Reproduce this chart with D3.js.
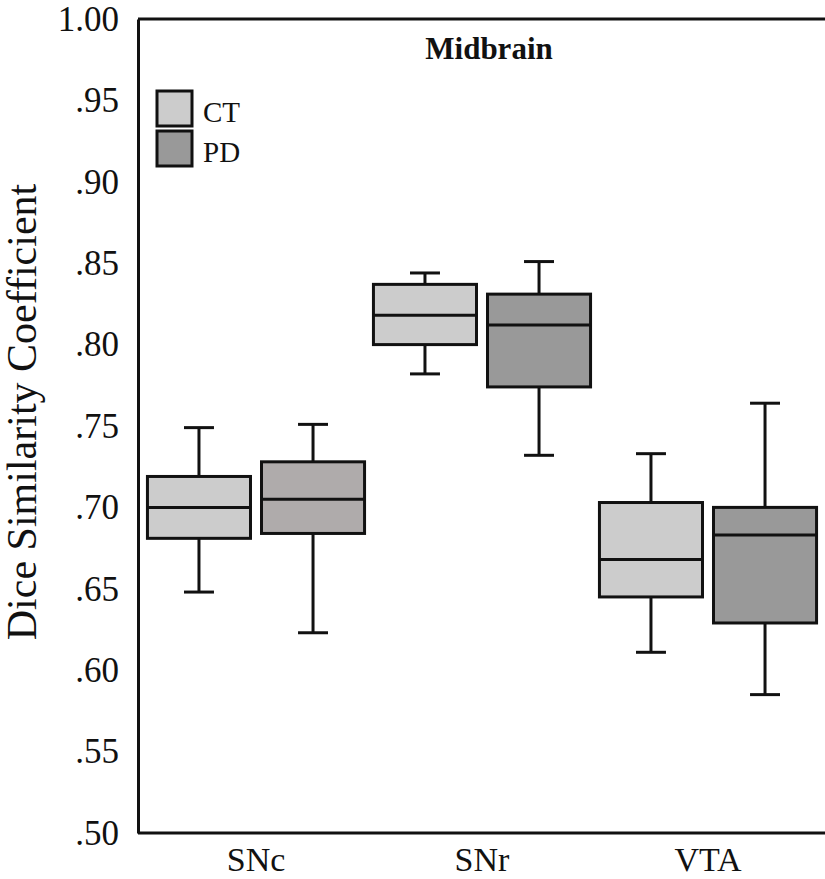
<!DOCTYPE html>
<html>
<head>
<meta charset="utf-8">
<script src="https://cdn.jsdelivr.net/npm/d3@7"></script>
<style>
  body{margin:0;background:#fff;}
  svg{display:block;font-family:"Liberation Serif","Times New Roman",serif;}
</style>
</head>
<body>
<svg id="chart" width="825" height="879"></svg>
<script>
// data
const regions=["SNc","SNr","VTA"];
const groups=["CT","PD"];
// per region: [lower whisker, Q1, median, Q3, upper whisker]
const ctStats=[[0.648,0.681,0.700,0.719,0.749],[0.782,0.800,0.818,0.837,0.844],[0.611,0.645,0.668,0.703,0.733]];
const pdStats=[[0.623,0.684,0.705,0.728,0.751],[0.732,0.774,0.812,0.831,0.851],[0.585,0.629,0.683,0.700,0.764]];
const yTicks=[0.50,0.55,0.60,0.65,0.70,0.75,0.80,0.85,0.90,0.95,1.00];
const title="Midbrain";
const yLabel="Dice Similarity Coefficient";

const fills={CT:"#cccccc",PD:"#999999"};
const boxFill=(r,g)=> (r=="SNc" && g=="PD") ? "#afabab" : fills[g];

const rows=regions.flatMap((r,i)=>[
  {region:r,group:"CT",s:ctStats[i]},
  {region:r,group:"PD",s:pdStats[i]}
]);

const svg=d3.select("#chart");
const plotL=138, plotR=825, plotT=19, plotB=833;

const y=d3.scaleLinear().domain([0.5,1]).range([plotB,plotT]);
const x=d3.scaleBand().domain(regions).range([143,821]);
const xs=d3.scaleBand().domain(groups).range([0,x.bandwidth()]).paddingInner(0.0965).paddingOuter(0.039);

// frame lines top / bottom
svg.append("line").attr("x1",plotL).attr("x2",plotR).attr("y1",y(1)).attr("y2",y(1)).attr("stroke","#111").attr("stroke-width",3);
svg.append("line").attr("x1",plotL).attr("x2",plotR).attr("y1",y(0.5)).attr("y2",y(0.5)).attr("stroke","#111").attr("stroke-width",3);

const yAxis=svg.append("g").attr("transform","translate("+plotL+",0)")
  .call(d3.axisLeft(y).tickValues(yTicks).tickSize(0).tickSizeOuter(0).tickPadding(19)
    .tickFormat(d=>d3.format(".2f")(d).replace(/^0/,"")));
yAxis.select(".domain").attr("stroke","#111").attr("stroke-width",3);
yAxis.selectAll("text").attr("font-family","Liberation Serif").attr("font-size",35).attr("fill","#111");

const xAxis=svg.append("g").attr("transform","translate(0,"+plotB+")")
  .call(d3.axisBottom(x).tickSize(0).tickPadding(14));
xAxis.select(".domain").remove();
xAxis.selectAll("text").attr("font-family","Liberation Serif").attr("font-size",34).attr("fill","#111");

// boxes
const capW=30;
const box=svg.append("g").selectAll("g").data(rows).join("g")
  .attr("transform",d=>"translate("+(x(d.region)+xs(d.group))+",0)");
const bw=xs.bandwidth();

box.append("line").attr("x1",bw/2).attr("x2",bw/2).attr("y1",d=>y(d.s[0])).attr("y2",d=>y(d.s[1])).attr("stroke","#111").attr("stroke-width",3);
box.append("line").attr("x1",bw/2).attr("x2",bw/2).attr("y1",d=>y(d.s[3])).attr("y2",d=>y(d.s[4])).attr("stroke","#111").attr("stroke-width",3);
box.append("line").attr("x1",bw/2-capW/2).attr("x2",bw/2+capW/2).attr("y1",d=>y(d.s[0])).attr("y2",d=>y(d.s[0])).attr("stroke","#111").attr("stroke-width",3);
box.append("line").attr("x1",bw/2-capW/2).attr("x2",bw/2+capW/2).attr("y1",d=>y(d.s[4])).attr("y2",d=>y(d.s[4])).attr("stroke","#111").attr("stroke-width",3);
box.append("rect").attr("x",0).attr("width",bw).attr("y",d=>y(d.s[3])).attr("height",d=>y(d.s[1])-y(d.s[3]))
  .attr("fill",d=>boxFill(d.region,d.group)).attr("stroke","#111").attr("stroke-width",3);
box.append("line").attr("x1",0).attr("x2",bw).attr("y1",d=>y(d.s[2])).attr("y2",d=>y(d.s[2])).attr("stroke","#111").attr("stroke-width",3);

// title
svg.append("text").attr("x",489).attr("y",59).attr("text-anchor","middle").attr("font-weight","bold").attr("font-size",31).attr("fill","#111").text(title);

// y label
svg.append("text").attr("transform","translate(36,412) rotate(-90)").attr("text-anchor","middle").attr("font-size",42).attr("fill","#111").text(yLabel);

// legend
const legend=svg.append("g").selectAll("g").data(groups).join("g")
  .attr("transform",(d,i)=>"translate(157,"+(91+i*40)+")");
legend.append("rect").attr("width",35).attr("height",35).attr("fill",d=>fills[d]).attr("stroke","#111").attr("stroke-width",3);
legend.append("text").attr("x",46).attr("y",31).attr("font-size",29).attr("fill","#111").text(d=>d);
</script>
</body>
</html>
